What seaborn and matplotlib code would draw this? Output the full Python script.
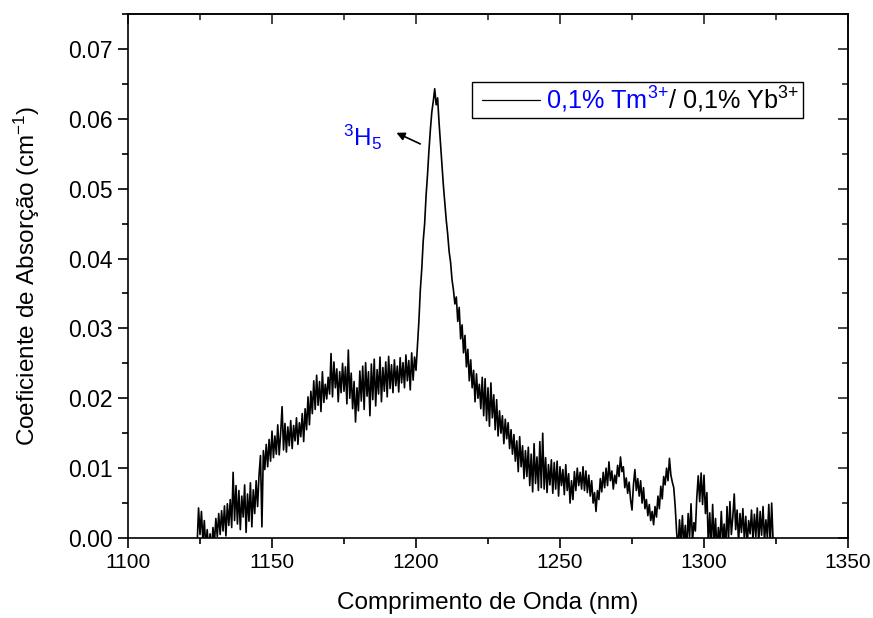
import numpy as np
import pandas as pd
import matplotlib
matplotlib.use("Agg")
import matplotlib.pyplot as plt
import seaborn as sns
from matplotlib.ticker import MultipleLocator, FormatStrFormatter
from matplotlib.offsetbox import AnchoredOffsetbox, HPacker, TextArea, DrawingArea
from matplotlib.lines import Line2D

# ---------------- data (absorption in 1e-3 cm^-1, 0.5 nm sampling) ----------------
wl_start, wl_step = 1124.0, 0.5

abs_1124_1149 = [
    -1.0, 4.3, 0.5, 3.8, -0.5, 2.5, -1.5, 1.2, -2.0, 0.6,
    -1.8, 1.5, -0.8, 2.8, 0.2, 3.5, 0.5, 3.9, 1.0, 4.6,
    0.3, 4.9, 1.8, 5.5, 1.5, 9.4, 2.5, 7.5, 2.0, 6.8,
    1.2, 6.0, 3.0, 7.6, 0.8, 6.3, 2.4, 7.9, 1.6, 6.9,
    3.5, 8.2, 4.5, 9.0, 11.8, 1.6, 12.5, 9.8, 13.4, 10.2,
    14.1, 11.0,
]
abs_1150_1199 = [
    15.3, 11.5, 14.6, 12.0, 16.2, 11.9, 15.0, 18.8, 12.6, 16.4,
    12.3, 15.9, 13.2, 16.8, 12.8, 16.1, 13.9, 17.2, 13.4, 16.5,
    14.5, 17.8, 13.8, 18.5, 15.5, 20.2, 16.2, 21.0, 17.8, 22.5,
    18.4, 23.3, 19.0, 22.4, 18.1, 23.8, 19.4, 22.0, 19.9, 23.0,
    20.6, 26.4, 20.2, 25.2, 21.5, 24.2, 19.5, 23.8, 20.8, 25.0,
    21.0, 24.5, 19.2, 26.9, 20.0, 23.6, 18.5, 22.4, 16.6, 21.5,
    18.2, 23.9, 19.6, 24.6, 18.4, 25.1, 20.3, 23.8, 17.5, 24.9,
    19.8, 25.6, 18.9, 24.1, 20.6, 25.9, 19.5, 24.4, 21.0, 25.2,
    20.2, 26.0, 21.4, 24.8, 20.8, 25.5, 21.8, 24.6, 20.9, 25.8,
    22.2, 25.1, 21.5, 26.2, 22.5, 25.4, 21.2, 26.5, 22.6, 25.9,
]
abs_1200_1219 = [
    24.0, 27.5, 31.0, 35.5, 38.5, 42.5, 45.0, 49.0, 52.0, 55.5,
    58.5, 61.0, 62.5, 64.3, 62.0, 63.0, 59.5, 56.5, 53.5, 50.5,
    48.0, 45.5, 43.5, 41.0, 39.5, 37.0, 35.5, 33.5, 34.5, 31.0,
    33.0, 28.5, 30.5, 26.5, 29.0, 24.5, 27.0, 22.5, 25.5, 21.5,
]
abs_1220_1259 = [
    24.0, 19.5, 23.5, 20.0, 22.0, 18.5, 23.0, 17.5, 22.8, 16.8,
    21.5, 16.0, 22.2, 17.2, 20.5, 15.5, 19.8, 14.6, 18.2, 15.0,
    17.5, 13.5, 17.0, 14.2, 16.5, 12.8, 15.5, 12.0, 14.8, 11.0,
    13.9, 9.5, 14.5, 10.2, 13.2, 8.5, 12.5, 8.8, 13.0, 7.5,
    12.0, 6.6, 13.5, 7.8, 11.6, 6.8, 13.8, 7.2, 15.0, 7.0,
    11.5, 6.5, 10.5, 7.6, 11.2, 6.4, 10.8, 7.0, 11.0, 6.0,
    10.2, 7.5, 9.8, 6.2, 10.5, 6.8, 9.2, 5.0, 8.2, 5.5,
    9.5, 6.8, 10.0, 7.5, 9.4, 7.0, 10.2, 6.8, 9.6, 6.5,
]
abs_1260_1289 = [
    9.0, 6.0, 8.2, 5.0, 6.5, 3.8, 6.8, 5.5, 8.5, 6.6,
    9.4, 7.2, 10.0, 7.5, 10.9, 8.2, 9.6, 7.0, 9.0, 7.8,
    10.4, 8.8, 11.6, 9.5, 10.2, 7.2, 8.6, 6.4, 8.0, 5.5,
    4.0, 7.6, 9.8, 6.8, 8.5, 6.0, 8.2, 5.0, 7.2, 4.2,
    5.5, 3.2, 4.8, 2.5, 3.8, 1.9, 4.5, 3.0, 6.0, 4.2,
    7.4, 5.6, 8.8, 7.6, 10.0, 8.2, 11.4, 9.0, 8.0, 7.2,
]
abs_1290_1324 = [
    4.5, 0.8, -1.5, 2.6, -0.8, 3.2, -1.2, 1.8, -2.0, 3.5,
    0.2, 4.9, -0.5, 2.2, 1.0, 5.8, 8.9, 5.2, 9.3, 4.8,
    9.0, 3.5, 6.5, -1.0, 3.6, -1.5, 4.8, -0.8, 2.8, -2.0,
    1.5, -1.2, 3.8, -0.5, 2.0, -1.8, 4.5, -0.3, 5.2, 0.5,
    3.0, 6.3, 1.2, 4.0, -0.6, 3.5, 0.8, 4.2, -0.2, 3.1,
    -1.0, 2.5, 0.6, 4.0, -0.4, 3.4, 0.2, 4.3, -0.8, 3.8,
    0.4, 4.5, -0.5, 2.6, 0.0, 4.8, -1.0, 5.0, -0.5,
]

absorption = np.concatenate([abs_1124_1149, abs_1150_1199, abs_1200_1219,
                             abs_1220_1259, abs_1260_1289, abs_1290_1324]) / 1000.0
wavelength = wl_start + wl_step * np.arange(len(absorption))
df = pd.DataFrame({"wavelength": wavelength, "absorption": absorption})

x_ticks = [1100, 1150, 1200, 1250, 1300, 1350]
y_ticks = [0.00, 0.01, 0.02, 0.03, 0.04, 0.05, 0.06, 0.07]

# ---------------- style ----------------
sns.set_theme(style="white")
plt.rcParams["font.family"] = ["Liberation Sans", "DejaVu Sans"]
plt.rcParams["mathtext.fontset"] = "custom"
plt.rcParams["mathtext.rm"] = "Liberation Sans"
plt.rcParams["mathtext.it"] = "Liberation Sans:italic"
plt.rcParams["mathtext.bf"] = "Liberation Sans:bold"

fig = plt.figure(figsize=(8.73, 6.18), dpi=100)
ax = fig.add_axes([128 / 873, 1 - 538 / 618, (848 - 128) / 873, (538 - 14) / 618])

sns.lineplot(data=df, x="wavelength", y="absorption", color="black",
             linewidth=1.2, ax=ax, estimator=None, sort=False)

ax.set_xlim(1100, 1350)
ax.set_ylim(0, 0.075)
ax.set_xticks(x_ticks)
ax.set_yticks(y_ticks)
ax.xaxis.set_minor_locator(MultipleLocator(25))
ax.yaxis.set_minor_locator(MultipleLocator(0.005))
ax.yaxis.set_major_formatter(FormatStrFormatter("%.2f"))

for s in ax.spines.values():
    s.set_color("black")
    s.set_linewidth(1.2)

ax.tick_params(axis="both", which="major", direction="out", length=7, width=1.2,
               color="black", labelcolor="black", pad=4)
ax.tick_params(axis="x", which="major", labelsize=15)
ax.tick_params(axis="y", which="major", labelsize=16.5)
ax.tick_params(axis="both", which="minor", direction="out", length=4, width=1.2,
               color="black")
ax.tick_params(bottom=True, left=True, top=False, right=False, which="both")

# inward ticks on top and right
secx = ax.secondary_xaxis("top")
secx.set_xticks(x_ticks)
secx.xaxis.set_minor_locator(MultipleLocator(25))
secx.tick_params(which="major", direction="in", length=7, width=1.2, labeltop=False)
secx.tick_params(which="minor", direction="in", length=4, width=1.2)
secx.spines["top"].set_linewidth(1.2)
secy = ax.secondary_yaxis("right")
secy.set_yticks(y_ticks)
secy.yaxis.set_minor_locator(MultipleLocator(0.005))
secy.tick_params(which="major", direction="in", length=7, width=1.2, labelright=False)
secy.tick_params(which="minor", direction="in", length=4, width=1.2)
secy.spines["right"].set_linewidth(1.2)

ax.set_xlabel("Comprimento de Onda (nm)", fontsize=17.5, color="black", labelpad=14)
ax.set_ylabel("Coeficiente de Absorção (cm$^{-1}$)", fontsize=17.5, color="black",
              labelpad=19)

# annotation for 3H5 peak
ax.annotate("", xy=(1193.2, 0.0580), xytext=(1201.5, 0.0564),
            arrowprops=dict(arrowstyle="-|>", color="black", lw=1.2,
                            mutation_scale=12, shrinkA=0, shrinkB=0))
ax.text(1181.5, 0.0573, "$^{3}$H$_{5}$", color="#0000ff", fontsize=17.5,
        ha="center", va="center")

# legend with two-coloured label
da = DrawingArea(51, 10, 0, 0)
da.add_artist(Line2D([5, 47], [5, 5], color="black", lw=0.9))
ta1 = TextArea("0,1% Tm$^{3{+}}$", textprops=dict(color="#0000ff", fontsize=18.2))
ta2 = TextArea("/ 0,1% Yb$^{3{+}}$", textprops=dict(color="black", fontsize=18.2))
box = HPacker(children=[da, ta1, ta2], align="center", pad=0, sep=0)
leg = AnchoredOffsetbox(loc="upper left", child=box, pad=0.2, borderpad=0,
                        frameon=True, bbox_to_anchor=(472 / 873, 1 - 82 / 618),
                        bbox_transform=fig.transFigure)
leg.patch.set_edgecolor("black")
leg.patch.set_linewidth(1.0)
leg.patch.set_boxstyle("square", pad=0)
ax.add_artist(leg)

fig.savefig("out.png", dpi=100)
